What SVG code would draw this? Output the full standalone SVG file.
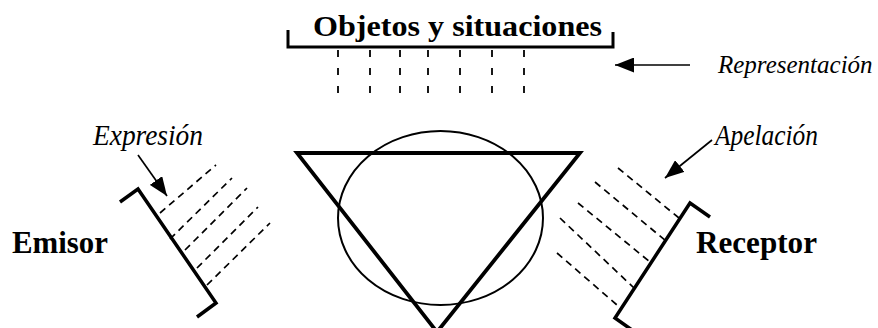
<svg xmlns="http://www.w3.org/2000/svg" width="878" height="328" viewBox="0 0 878 328">
<style>
.lbl{font-family:"Liberation Serif","Times New Roman",serif;fill:#000}
.b{font-weight:bold}
.i{font-style:italic}
.thick{fill:none;stroke:#000;stroke-width:3.5;stroke-linejoin:miter;stroke-linecap:butt}
.dv{fill:none;stroke:#000;stroke-width:1.8;stroke-dasharray:7 11}
.dd{fill:none;stroke:#000;stroke-width:1.7;stroke-dasharray:7 5}
.arr{fill:none;stroke:#000;stroke-width:1.7}
</style>
<defs>
<marker id="ah" viewBox="0 0 19 15" refX="19" refY="7.5" markerWidth="19" markerHeight="15" markerUnits="userSpaceOnUse" orient="auto">
<path d="M0,0 L19,7.5 L0,15 Z" fill="#000"/>
</marker>
</defs>
<rect width="878" height="328" fill="#fff"/>
<g id="objetos">
<path class="thick" d="M288,30 V47 H613 V32" style="stroke-width:3"/>
<text class="lbl b" x="313" y="36" font-size="29" textLength="289" lengthAdjust="spacingAndGlyphs">Objetos y situaciones</text>
</g>
<g id="representacion">
<text class="lbl i" x="718" y="73" font-size="25">Representación</text>
</g>
<g id="expresion">
<text class="lbl i" x="93" y="145" font-size="30" textLength="110" lengthAdjust="spacingAndGlyphs">Expresión</text>
</g>
<g id="apelacion">
<text class="lbl i" x="715" y="145" font-size="30" textLength="103" lengthAdjust="spacingAndGlyphs">Apelación</text>
</g>
<g id="emisor">
<path class="thick" d="M120,202 L138,189 L216,303 L197,317"/>
<text class="lbl b" x="12" y="253" font-size="31" textLength="96" lengthAdjust="spacingAndGlyphs">Emisor</text>
</g>
<g id="receptor">
<path class="thick" d="M710,217 L690,203 L615,318 L632,330"/>
<text class="lbl b" x="696" y="253" font-size="31" textLength="121" lengthAdjust="spacingAndGlyphs">Receptor</text>
</g>
<g id="organon">
<ellipse cx="440.5" cy="218" rx="102.5" ry="87" fill="none" stroke="#000" stroke-width="2"/>
<path class="thick" d="M297,153 L580,153 L437,332 Z" style="stroke-width:3.8"/>
</g>
<g id="connectors">
<path class="dv" d="M338,50 V100 M370,50 V100 M400,50 V100 M428,50 V100 M460,50 V100 M492,50 V100 M524,50 V100"/>
<path class="dd" d="M160,213 L216,165 M170,239 L232,178 M185,250 L247,188 M197,268 L258,207 M207,285 L270,223"/>
<path class="dd" d="M618,168 L679,218 M595,182 L666,241 M578,203 L650,262 M560,218 L634,288 M557,253 L617,305"/>
<line class="arr" x1="690" y1="65" x2="615" y2="65" marker-end="url(#ah)"/>
<line class="arr" x1="138" y1="155" x2="167" y2="196" marker-end="url(#ah)"/>
<line class="arr" x1="712" y1="140" x2="665" y2="178" marker-end="url(#ah)"/>
</g>
</svg>
